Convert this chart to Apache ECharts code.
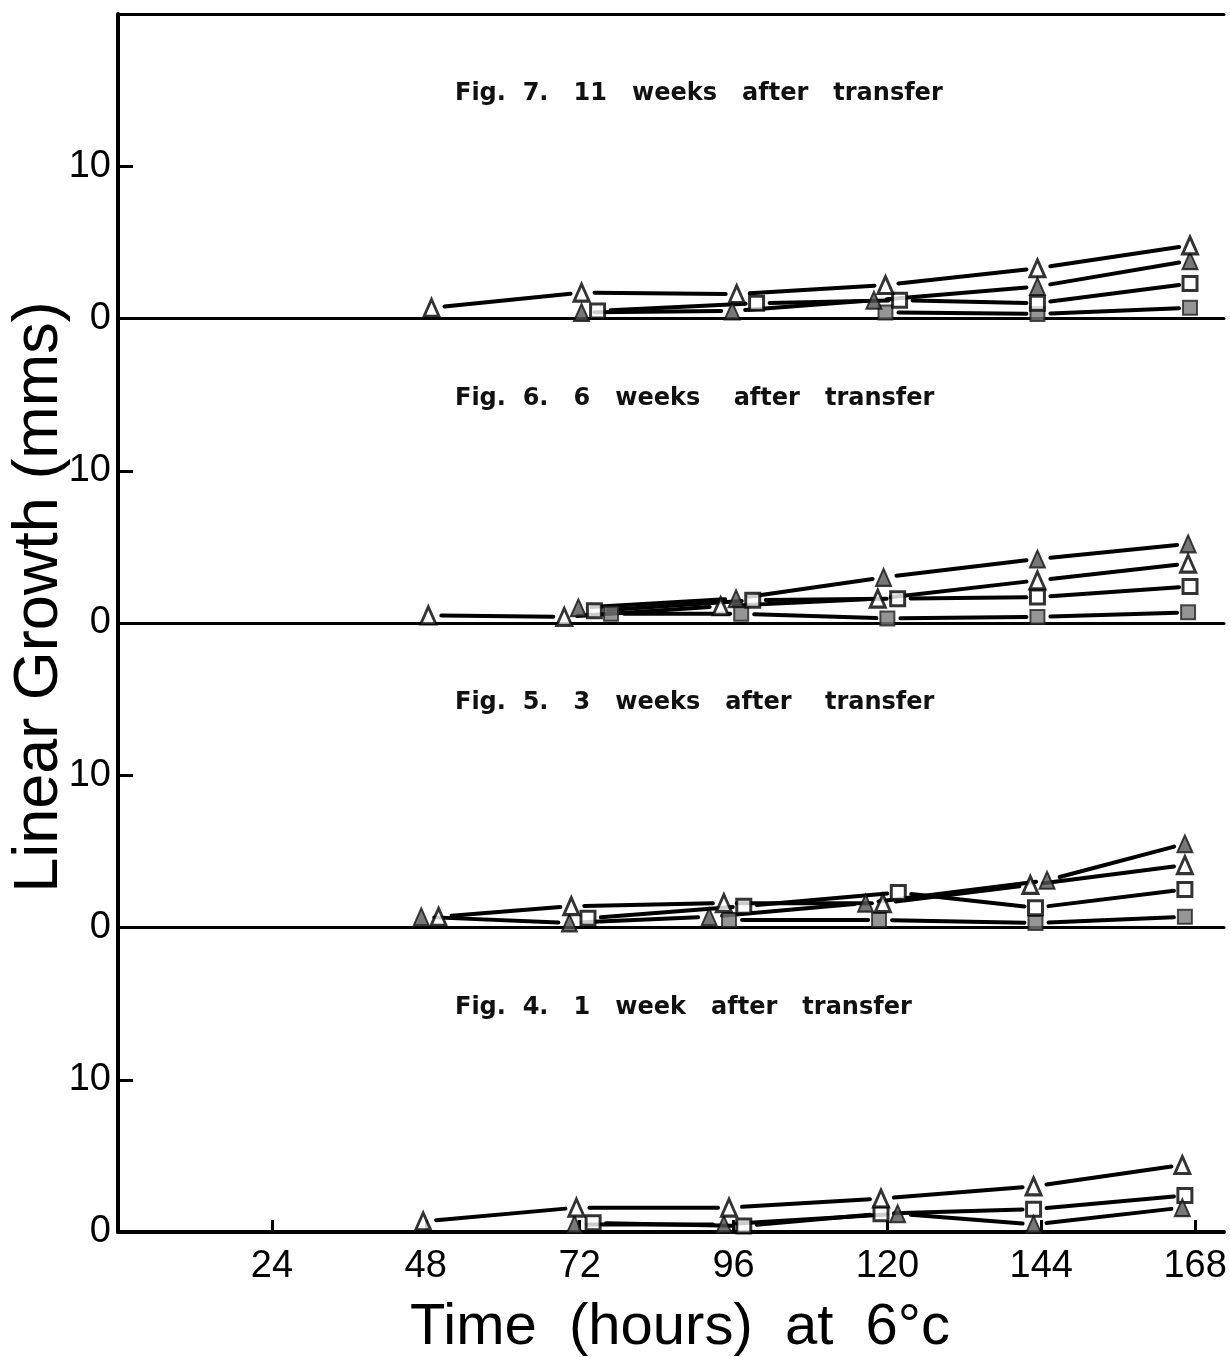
<!DOCTYPE html>
<html><head><meta charset="utf-8">
<script src="https://cdn.jsdelivr.net/npm/echarts@6/dist/echarts.min.js"></script>
<style>html,body{margin:0;padding:0;background:#fff}#c{width:1230px;height:1357px}</style>
</head><body><div id="c"></div>
<script>
// ---- data (time in hours, growth in mms) ----
const xTicks = [24, 48, 72, 96, 120, 144, 168];
const yTicks = [0, 10];
const panelTitles = [
  'Fig.  7.   11   weeks   after   transfer',
  'Fig.  6.   6   weeks    after   transfer',
  'Fig.  5.   3   weeks   after    transfer',
  'Fig.  4.   1   week   after   transfer'
];
// Fig. 7 (11 weeks)
const fig7OpenTri   = [[48.9,0.7],[72.3,1.7],[96.5,1.6],[119.7,2.2],[143.4,3.3],[167.2,4.8]];
const fig7FilledTri = [[72.3,0.4],[95.8,0.5],[117.9,1.2],[143.4,2.1],[167.2,3.8]];
const fig7OpenSq    = [[74.8,0.5],[99.6,1.0],[121.9,1.2],[143.4,1.0],[167.2,2.3]];
const fig7FilledSq  = [[119.7,0.4],[143.4,0.3],[167.2,0.7]];
// Fig. 6 (6 weeks)
const fig6OpenTri   = [[48.4,0.5],[69.6,0.4],[94.0,1.1],[118.5,1.6],[143.4,2.8],[166.9,3.9]];
const fig6FilledTri = [[71.8,1.0],[96.4,1.6],[119.4,3.0],[143.4,4.2],[166.9,5.2]];
const fig6OpenSq    = [[74.3,0.8],[99.0,1.5],[121.6,1.6],[143.4,1.7],[167.2,2.4]];
const fig6FilledSq  = [[76.9,0.6],[97.2,0.6],[120.0,0.3],[143.4,0.4],[166.9,0.7]];
// Fig. 5 (3 weeks)
const fig5OpenTri   = [[50.0,0.7],[70.7,1.4],[94.5,1.6],[119.3,1.6],[142.3,2.8],[166.4,4.1]];
const fig5FilledTri = [[47.3,0.7],[70.4,0.3],[92.2,0.7],[116.6,1.6],[144.9,3.1],[166.4,5.5]];
const fig5OpenSq    = [[73.3,0.6],[97.6,1.4],[121.7,2.3],[143.1,1.3],[166.4,2.5]];
const fig5FilledSq  = [[95.3,0.5],[118.7,0.5],[143.1,0.3],[166.4,0.7]];
// Fig. 4 (1 week)
const fig4OpenTri   = [[47.6,0.7],[71.5,1.6],[95.3,1.6],[119.0,2.2],[142.8,3.0],[166.0,4.4]];
const fig4FilledTri = [[71.2,0.5],[94.5,0.5],[121.6,1.2],[142.8,0.5],[166.0,1.6]];
const fig4OpenSq    = [[74.1,0.6],[97.6,0.4],[119.0,1.2],[142.8,1.5],[166.4,2.4]];
const fig4FilledSq  = [];

const panels = [
  {title: panelTitles[0], openTri: fig7OpenTri, filledTri: fig7FilledTri, openSq: fig7OpenSq, filledSq: fig7FilledSq},
  {title: panelTitles[1], openTri: fig6OpenTri, filledTri: fig6FilledTri, openSq: fig6OpenSq, filledSq: fig6FilledSq},
  {title: panelTitles[2], openTri: fig5OpenTri, filledTri: fig5FilledTri, openSq: fig5OpenSq, filledSq: fig5FilledSq},
  {title: panelTitles[3], openTri: fig4OpenTri, filledTri: fig4FilledTri, openSq: fig4OpenSq, filledSq: fig4FilledSq}
];

// ---- layout ----
const L = 118, R = 6, TOP = 14, PH = 304.5, XMAX = 172.5;
const grids = [], xAxes = [], yAxes = [], series = [], titles = [];

function segs(arr){ const out=[]; for(let k=1;k<arr.length;k++) out.push([arr[k-1][0],arr[k-1][1],arr[k][0],arr[k][1]]); return out; }

panels.forEach((p, i) => {
  grids.push({left: L, right: R, top: TOP + i*PH, height: PH});
  const last = i === panels.length - 1;
  xAxes.push({
    type: 'value', gridIndex: i, min: 0, max: XMAX, interval: 24,
    axisLine: {show: true, onZero: false, lineStyle: {color: '#000', width: last ? 4 : 3}},
    axisTick: {show: last, inside: true, length: 12, customValues: xTicks, lineStyle: {color: '#000', width: 3}},
    axisLabel: {show: last, customValues: xTicks, color: '#000', fontSize: 38, fontFamily: 'Liberation Sans', margin: 16},
    splitLine: {show: false}
  });
  yAxes.push({
    type: 'value', gridIndex: i, min: 0, max: 20, interval: 10,
    axisLine: {show: true, lineStyle: {color: '#000', width: 4}},
    axisTick: {show: true, inside: true, length: 15, customValues: [10], lineStyle: {color: '#000', width: 3}},
    axisLabel: {customValues: yTicks, color: '#000', fontSize: 38, fontFamily: 'Liberation Sans', margin: 7},
    splitLine: {show: false}
  });
  titles.push({
    text: p.title, left: 450, top: TOP + i*PH + 63,
    textStyle: {fontFamily: 'DejaVu Sans', fontWeight: 'bold', fontSize: 24, color: '#111'}
  });
  const allSegs = [].concat(segs(p.openTri), segs(p.filledTri), segs(p.openSq), segs(p.filledSq));
  series.push({
    type: 'custom', xAxisIndex: i, yAxisIndex: i, data: allSegs, encode: {x: [0,2], y: [1,3]},
    silent: true, z: 2,
    renderItem: function(params, api){
      const a = api.coord([api.value(0), api.value(1)]);
      const b = api.coord([api.value(2), api.value(3)]);
      const dx = b[0]-a[0], dy = b[1]-a[1];
      const len = Math.hypot(dx, dy) || 1;
      const ux = dx/len, uy = dy/len, g1 = 13, g2 = 11;
      return {type: 'line', shape: {x1: a[0]+ux*g1, y1: a[1]+uy*g1, x2: b[0]-ux*g2, y2: b[1]-uy*g2},
              style: {stroke: '#000', lineWidth: 4, lineCap: 'round'}};
    }
  });
  const common = {type: 'scatter', xAxisIndex: i, yAxisIndex: i, z: 3, silent: true};
  series.push(Object.assign({}, common, {name: 'filled square', data: p.filledSq, symbol: 'rect', symbolSize: 14,
    itemStyle: {color: '#7a7a7a', borderColor: '#222', borderWidth: 2}}));
  series.push(Object.assign({}, common, {name: 'open square', data: p.openSq, symbol: 'rect', symbolSize: 14,
    itemStyle: {color: '#fff', borderColor: '#000', borderWidth: 3}}));
  series.push(Object.assign({}, common, {name: 'filled triangle', data: p.filledTri, symbol: 'triangle', symbolSize: [15,17],
    itemStyle: {color: '#555', borderColor: '#111', borderWidth: 2}}));
  series.push(Object.assign({}, common, {name: 'open triangle', data: p.openTri, symbol: 'triangle', symbolSize: [15,17],
    itemStyle: {color: '#fff', borderColor: '#000', borderWidth: 3}}));
});

// top border of the frame
xAxes.push({type: 'value', gridIndex: 0, position: 'top', min: 0, max: XMAX,
  axisLine: {show: true, onZero: false, lineStyle: {color: '#000', width: 3}},
  axisTick: {show: false}, axisLabel: {show: false}, splitLine: {show: false}});

const chart = echarts.init(document.getElementById('c'), null, {renderer: 'canvas'});
chart.setOption({
  animation: false,
  backgroundColor: '#fff',
  title: titles,
  grid: grids, xAxis: xAxes, yAxis: yAxes, series: series,
  graphic: [
    {type: 'text', x: 40, y: 597, rotation: Math.PI/2,
     style: {text: 'Linear Growth (mms)', fill: '#000', font: '63px "Liberation Sans"', textAlign: 'center', textVerticalAlign: 'middle'}},
    {type: 'text', x: 680, y: 1328,
     style: {text: 'Time  (hours)  at  6°c', fill: '#000', font: '58px "Liberation Sans"', textAlign: 'center', textVerticalAlign: 'middle'}}
  ]
});
</script>
</body></html>
